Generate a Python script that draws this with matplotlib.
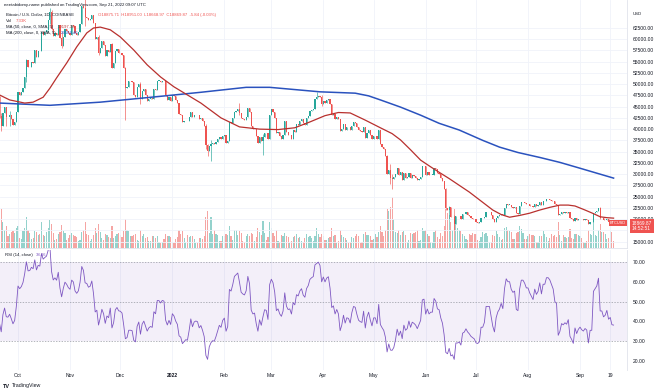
import numpy as np
import pandas as pd
import matplotlib
matplotlib.use('Agg')
import matplotlib.pyplot as plt
import matplotlib.dates as mdates

plt.rcParams['font.family'] = ['Liberation Sans', 'DejaVu Sans']

# closes Aug 31 .. Sep 19 2021, only used to warm up the RSI (off screen)
pre_close = [47100, 48800, 49300, 50000, 49900, 51800, 52700, 46900, 46100, 46400,
             44900, 45200, 46100, 44900, 47100, 48200, 47800, 47300, 48300, 47300]

# daily closes, Sep 20 2021 .. Sep 21 2022
c_2021_09 = [42900, 40700, 43600, 44900, 42800, 42700, 43200, 42200, 41000, 41500, 43800]
c_2021_10 = [48200, 47700, 48200, 49200, 51500, 55300, 53800, 53900, 54900, 54700,
             57500, 56000, 57400, 57300, 61700, 60900, 61500, 62000, 64300, 66000,
             62200, 60700, 61300, 60900, 63100, 60300, 58500, 60600, 62300, 61900,
             61300]
c_2021_11 = [61000, 63200, 62900, 61400, 61000, 61500, 63300, 67500, 66900, 64900,
             64800, 64200, 64400, 65500, 63600, 60100, 60400, 56900, 58100, 59700,
             58700, 56300, 57600, 57200, 58900, 53700, 54700, 57300, 57800, 57000]
c_2021_12 = [56900, 56500, 53600, 49200, 49400, 50600, 50600, 50500, 47600, 47100,
             49400, 50100, 46700, 48400, 48900, 47600, 46200, 46700, 46900, 46700,
             49000, 48600, 50800, 50800, 50400, 50800, 50700, 47500, 46500, 47100,
             46300]
c_2022_01 = [47700, 47300, 46400, 45800, 43400, 43100, 41500, 41700, 41900, 41800,
             42700, 43900, 42600, 43100, 43200, 43100, 42200, 42400, 41700, 40700,
             36400, 35100, 36300, 36700, 36900, 36800, 37200, 37700, 38200, 37900,
             38500]
c_2022_02 = [38700, 36900, 37300, 41600, 41400, 42400, 43800, 44100, 44400, 43500,
             42400, 42200, 42100, 42600, 44600, 43900, 40600, 40000, 40100, 38400,
             37000, 38300, 37300, 38300, 39200, 39100, 37700, 43200]
c_2022_03 = [44400, 43900, 42500, 39100, 39400, 38400, 37900, 38700, 41900, 39400,
             38700, 38800, 37800, 39700, 39300, 41100, 40900, 41800, 42200, 41300,
             41000, 42400, 42900, 44000, 44300, 44500, 46800, 47100, 47400, 47100,
             45500]
c_2022_04 = [46300, 45800, 46400, 46600, 45500, 43200, 43400, 42300, 42800, 42200,
             39500, 40100, 41200, 39900, 40500, 40400, 39700, 40800, 41500, 41400,
             40500, 39700, 39500, 39400, 40400, 38100, 39200, 39700, 38600, 37700]
c_2022_05 = [38500, 38500, 37700, 39700, 36600, 36000, 35500, 34100, 30100, 31000,
             29100, 29000, 29300, 30100, 31300, 29900, 30400, 28700, 30300, 29200,
             29400, 30300, 29100, 29700, 29500, 29200, 28600, 29000, 29400, 31700,
             31800]
c_2022_06 = [29800, 30400, 29700, 29900, 29900, 31400, 31100, 30200, 30100, 29100,
             28400, 26600, 22500, 22100, 22600, 20400, 20500, 19000, 20600, 20600,
             20700, 20000, 21100, 21200, 21500, 21000, 20700, 20300, 20100, 19900]
c_2022_07 = [19300, 19200, 19300, 20200, 20200, 20500, 21600, 21600, 21600, 20800,
             19900, 19300, 20200, 20600, 20800, 21200, 20800, 22400, 23400, 23200,
             23200, 22700, 22500, 22600, 21300, 21200, 22900, 23800, 23800, 23600,
             23300]
c_2022_08 = [23300, 23000, 22800, 22600, 23300, 23000, 23200, 23800, 23200, 23900,
             23900, 24400, 24400, 24300, 24100, 23900, 23300, 23200, 20900, 21100,
             21500, 21400, 21500, 21400, 21600, 20300, 20000, 19600, 20300, 19800,
             20000]
c_2022_09 = [20100, 19900, 19800, 19900, 19800, 18800, 19300, 19300, 21400, 21600,
             21800, 22400, 20200, 20200, 19700, 19800, 20100, 19400, 19500, 18900,
             18869.87]

# volume, thousand BTC
v_2021_09 = [30, 38, 25, 18, 22, 12, 14, 16, 17, 15, 20]
v_2021_10 = [22, 10, 9, 17, 20, 30, 18, 15, 9, 10, 17, 16, 13, 14, 25, 13, 12, 16, 20, 27,
             24, 15, 8, 9, 14, 16, 23, 17, 15, 8, 10]
v_2021_11 = [13, 15, 13, 12, 11, 7, 8, 16, 18, 25, 14, 13, 7, 9, 13, 20, 15, 24, 16, 10,
             8, 14, 13, 11, 10, 22, 10, 12, 14, 15]
v_2021_12 = [13, 11, 17, 28, 18, 17, 12, 12, 13, 14, 8, 7, 18, 12, 14, 10, 11, 7, 7, 12,
             12, 10, 12, 6, 5, 6, 9, 14, 12, 12, 11]
v_2022_01 = [6, 5, 9, 11, 18, 14, 17, 10, 6, 13, 11, 12, 12, 9, 5, 5, 10, 10, 9, 12,
             30, 36, 15, 30, 14, 18, 14, 13, 7, 7, 12]
v_2022_02 = [12, 14, 13, 22, 12, 8, 18, 18, 13, 17, 15, 7, 6, 12, 14, 12, 15, 14, 7, 11,
             20, 16, 13, 26, 15, 8, 11, 25]
v_2022_03 = [20, 15, 12, 18, 7, 6, 13, 12, 15, 12, 11, 5, 7, 11, 12, 14, 10, 11, 7, 6,
             10, 14, 11, 12, 10, 7, 12, 20, 14, 11, 14]
v_2022_04 = [12, 8, 8, 10, 11, 20, 12, 13, 5, 7, 18, 13, 11, 10, 8, 5, 6, 11, 10, 12,
             14, 12, 5, 6, 14, 16, 13, 13, 12, 8]
v_2022_05 = [9, 14, 11, 16, 22, 16, 12, 18, 38, 36, 40, 50, 28, 16, 15, 18, 13, 16, 17, 13,
             6, 8, 15, 14, 15, 16, 18, 7, 8, 20, 17]
v_2022_06 = [18, 14, 12, 6, 5, 16, 18, 11, 9, 15, 12, 22, 40, 34, 32, 25, 18, 38, 28, 20,
             18, 17, 14, 12, 9, 8, 14, 13, 15, 14]
v_2022_07 = [14, 8, 7, 11, 16, 14, 15, 12, 6, 6, 13, 12, 17, 14, 11, 8, 9, 20, 21, 18,
             17, 16, 9, 9, 15, 16, 22, 19, 15, 9, 9]
v_2022_08 = [12, 14, 13, 13, 12, 6, 6, 12, 12, 17, 14, 11, 7, 10, 14, 12, 13, 11, 25, 13,
             7, 13, 11, 10, 11, 19, 10, 9, 14, 14, 13]
v_2022_09 = [12, 10, 6, 5, 7, 18, 14, 13, 26, 13, 12, 18, 24, 16, 16, 14, 9, 10, 18, 16,
             7.33]

# the longer shadows (high, low)
wicks = {
    '2021-09-20': (47300, 42500), '2021-09-21': (43600, 39600),
    '2021-09-24': (45000, 40700), '2021-09-26': (44000, 40800),
    '2021-10-06': (55700, 50400), '2021-10-20': (67000, 63500),
    '2021-10-21': (66600, 62000), '2021-10-27': (61500, 58100),
    '2021-11-10': (69000, 63000), '2021-11-18': (60900, 56500),
    '2021-11-26': (59200, 53600), '2021-12-04': (53900, 42000),
    '2021-12-13': (50400, 45700), '2021-12-28': (50700, 47300),
    '2022-01-21': (41100, 35500), '2022-01-22': (36800, 34000),
    '2022-01-24': (37500, 33000), '2022-02-10': (45800, 43200),
    '2022-02-24': (39000, 34300), '2022-03-28': (48200, 46700),
    '2022-03-31': (47600, 45200), '2022-05-09': (34300, 30000),
    '2022-05-11': (32200, 27700), '2022-05-12': (30000, 26700),
    '2022-06-13': (26900, 21900), '2022-06-15': (22800, 20100),
    '2022-06-18': (20800, 17600), '2022-08-19': (23200, 20800),
    '2022-09-13': (22600, 19900),
}

ma50_dates = ['2021-09-20', '2021-09-26', '2021-10-05', '2021-10-10', '2021-10-16',
              '2021-10-20', '2021-10-24', '2021-10-30', '2021-11-05', '2021-11-11',
              '2021-11-15', '2021-11-19', '2021-11-25', '2021-12-01', '2021-12-09',
              '2021-12-17', '2021-12-25', '2022-01-02', '2022-01-10', '2022-01-18',
              '2022-01-26', '2022-01-30', '2022-02-10', '2022-02-22', '2022-03-05',
              '2022-03-15', '2022-03-24', '2022-04-02', '2022-04-10', '2022-04-17',
              '2022-04-26', '2022-05-05', '2022-05-12', '2022-05-17', '2022-05-23',
              '2022-05-29', '2022-06-04', '2022-06-09', '2022-06-15', '2022-06-21',
              '2022-06-27', '2022-07-04', '2022-07-11', '2022-07-16', '2022-07-21',
              '2022-07-27', '2022-08-02', '2022-08-08', '2022-08-14', '2022-08-20',
              '2022-08-25', '2022-08-29', '2022-09-04', '2022-09-09', '2022-09-13',
              '2022-09-17', '2022-09-21']
ma50_vals = [47600, 46500, 45800, 46000, 47100,
             49100, 51400, 54700, 58300, 61400,
             62500, 62700, 62100, 60500, 57600,
             54300, 51600, 49400, 47600, 45800,
             43600, 42500, 40500, 40000, 39900,
             40300, 41600, 43000, 43700, 43600,
             42000, 40300, 39000, 37600, 35400,
             33100, 31600, 30400, 29000, 27500,
             26000, 24000, 22000, 21000, 20400,
             20800, 21300, 22000, 22600, 23100,
             23100, 22900, 22000, 21200, 20500,
             20300, 20197.38]

ma200_dates = ['2021-09-20', '2021-10-20', '2021-11-19', '2021-12-25', '2022-01-18',
               '2022-02-14', '2022-02-28', '2022-03-30', '2022-04-20', '2022-04-28',
               '2022-05-05', '2022-05-17', '2022-05-29', '2022-06-09', '2022-06-21',
               '2022-07-05', '2022-07-15', '2022-07-26', '2022-08-08', '2022-08-20',
               '2022-09-01', '2022-09-11', '2022-09-21']
ma200_vals = [45800, 45300, 46000, 47300, 48200,
              49300, 49300, 48300, 48000, 47400,
              46500, 44900, 43100, 41300, 39800,
              37500, 36000, 34800, 33700, 32600,
              31300, 30200, 29104.46]

month_ticks = ['2021-10-01', '2021-11-01', '2021-12-01', '2022-01-01', '2022-02-01',
               '2022-03-01', '2022-04-01', '2022-05-01', '2022-06-01', '2022-07-01',
               '2022-08-01', '2022-09-01', '2022-09-19']
month_labels = ['Oct', 'Nov', 'Dec', '2022', 'Feb', 'Mar', 'Apr', 'May', 'Jun', 'Jul',
                'Aug', 'Sep', '19']

close = np.array(c_2021_09 + c_2021_10 + c_2021_11 + c_2021_12 + c_2022_01 + c_2022_02
                 + c_2022_03 + c_2022_04 + c_2022_05 + c_2022_06 + c_2022_07 + c_2022_08
                 + c_2022_09, dtype=float)
vol = np.array(v_2021_09 + v_2021_10 + v_2021_11 + v_2021_12 + v_2022_01 + v_2022_02
               + v_2022_03 + v_2022_04 + v_2022_05 + v_2022_06 + v_2022_07 + v_2022_08
               + v_2022_09, dtype=float)
dates = pd.date_range('2021-09-20', periods=len(close), freq='D')
xd = mdates.date2num(dates)

# crypto trades 24/7: open is the previous close
opn = np.concatenate([[pre_close[-1]], close[:-1]])
high = np.maximum(opn, close)
low = np.minimum(opn, close)
for k, (h, l) in wicks.items():
    i = (pd.Timestamp(k) - dates[0]).days
    high[i], low[i] = h, l

up = close >= opn
GREEN, RED = '#26a69a', '#ef5350'
cols = np.where(up, GREEN, RED)

# RSI(14), Wilder smoothing
allc = np.array(pre_close + list(close), dtype=float)
d = np.diff(allc)
g = np.clip(d, 0, None)
ls = np.clip(-d, 0, None)
rsi_all = np.full(len(allc), np.nan)
ag, al = g[:14].mean(), ls[:14].mean()
rsi_all[14] = 100 - 100 / (1 + ag / al)
for k in range(14, len(d)):
    ag = (ag * 13 + g[k]) / 14
    al = (al * 13 + ls[k]) / 14
    rsi_all[k + 1] = 100 - 100 / (1 + ag / al)
rsi = rsi_all[len(pre_close):]

W, H = 660, 392
def fx(px):
    return px / W
def fy(py):
    return 1 - py / H

fig = plt.figure(figsize=(6.6, 3.92), dpi=100)
fig.patch.set_facecolor('white')

ax = fig.add_axes([0, fy(248), fx(627), 248 / H])
vax = ax.twinx()
rax = fig.add_axes([0, fy(370), fx(627), 120 / H], sharex=ax)

t0 = mdates.date2num(pd.Timestamp('2021-10-01'))
ax.set_xlim(t0 - 10.73, t0 + 363)

# volume underneath
vax.bar(xd, vol, width=0.7, color=np.where(up, '#94d2cc', '#f5a5a3'), linewidth=0)
vax.set_ylim(0, 243)
vax.axis('off')
ax.set_zorder(vax.get_zorder() + 1)
ax.patch.set_visible(False)

# candles
ax.vlines(xd, low, high, colors=cols, linewidth=0.45, zorder=3)
ax.bar(xd, np.maximum(np.abs(close - opn), 60), bottom=np.minimum(opn, close),
       width=0.72, color=cols, linewidth=0, zorder=3)

ax.plot(mdates.date2num(pd.to_datetime(ma200_dates)), ma200_vals, color='#2a52be', lw=1.1, zorder=4)
ax.plot(mdates.date2num(pd.to_datetime(ma50_dates)), ma50_vals, color='#b8302e', lw=0.9, zorder=4)

ax.set_ylim(13554, 68729)
pticks = np.arange(15000, 62501, 2500)
ax.set_yticks(pticks)
# 17500 sits under the last-price tag
ax.set_yticklabels(['' if v == 17500 else f'{v:.2f}' for v in pticks])
ax.yaxis.tick_right()
ax.tick_params(axis='y', length=0, pad=4.3, labelsize=3.6, labelcolor='#131722')
ax.tick_params(axis='x', length=0, labelbottom=False)
tick_x = mdates.date2num(pd.to_datetime(month_ticks))
ax.set_xticks(tick_x)
ax.grid(True, color='#f0f3fa', lw=0.6)
ax.set_axisbelow(True)
for s in ['left', 'top']:
    ax.spines[s].set_visible(False)
for s in ['right', 'bottom']:
    ax.spines[s].set_color('#e0e3eb')
    ax.spines[s].set_linewidth(0.6)

# RSI pane
rax.axhspan(30, 70, color='#7e57c2', alpha=0.09, lw=0)
for lv in (70, 50, 30):
    rax.axhline(lv, color='#9598a1', lw=0.5, ls=(0, (2, 2)))
rax.plot(xd, rsi, color='#7e57c2', lw=0.6)
rax.set_ylim(15.3, 76.1)
rt = [20, 30, 40, 50, 60, 70]
rax.set_yticks(rt)
rax.set_yticklabels([f'{v:.2f}' for v in rt])
rax.yaxis.tick_right()
rax.tick_params(axis='y', length=0, pad=4.3, labelsize=3.6, labelcolor='#131722')
rax.set_xticks(tick_x)
rax.set_xticklabels(month_labels)
rax.tick_params(axis='x', length=0, pad=2, labelsize=3.6, labelcolor='#131722')
rax.get_xticklabels()[3].set_fontweight('bold')
rax.grid(True, axis='x', color='#f0f3fa', lw=0.6)
rax.set_axisbelow(True)
for s in ['left', 'top', 'bottom']:
    rax.spines[s].set_visible(False)
rax.spines['right'].set_color('#e0e3eb')
rax.spines['right'].set_linewidth(0.6)

# header texts
tc = '#131722'
fs = 3.1
fig.text(fx(4), fy(5), 'eeetabidomy-name published on TradingView.com, Sep 21, 2022 09:07 UTC',
         fontsize=fs, color=tc, va='center')
fig.text(fx(6), fy(15), 'Bitcoin / U.S. Dollar, 1D, COINBASE', fontsize=fs, color=tc, va='center')
fig.text(fx(98), fy(15), 'O18875.71  H18951.00  L18668.97  C18869.87  -5.84 (-0.03%)',
         fontsize=fs, color=RED, va='center')
fig.text(fx(6), fy(21), 'Vol', fontsize=fs, color=tc, va='center')
fig.text(fx(16), fy(21), f'{vol[-1]:.2f}K', fontsize=fs, color=RED, va='center')
fig.text(fx(6), fy(27), 'MA (50, close, 0, SMA, 5)', fontsize=fs, color=tc, va='center')
fig.text(fx(58), fy(27), f'{ma50_vals[-1]:.2f}', fontsize=fs, color='#b8302e', va='center')
fig.text(fx(6), fy(33), 'MA (200, close, 0, SMA, 5)', fontsize=fs, color=tc, va='center')
fig.text(fx(61), fy(33), f'{ma200_vals[-1]:.2f}', fontsize=fs, color='#2a52be', va='center')
fig.text(fx(5), fy(255), 'RSI (14, close)', fontsize=fs, color=tc, va='center')
fig.text(fx(36), fy(255), f'{rsi[-1]:.2f}', fontsize=fs, color='#7e57c2', va='center')
fig.text(fx(633), fy(14), 'USD', fontsize=fs, color=tc, va='center')

# last price labels on the scale
fig.text(fx(610), fy(223), 'BTCUSD', fontsize=2.8, color='white', va='center',
         bbox=dict(boxstyle='square,pad=0.25', fc=RED, ec='none'))
fig.text(fx(632), fy(226), f'{close[-1]:.2f}\n14:52:51', fontsize=3.4, color='white',
         va='center', linespacing=1.1,
         bbox=dict(boxstyle='square,pad=0.45', fc=RED, ec='none'))

fig.text(fx(3), fy(386), 'TV', fontsize=4, color=tc, fontweight='bold', va='center')
fig.text(fx(12), fy(386), 'TradingView', fontsize=3.8, color=tc, va='center')

fig.savefig('out.png', dpi=100, facecolor='white')
